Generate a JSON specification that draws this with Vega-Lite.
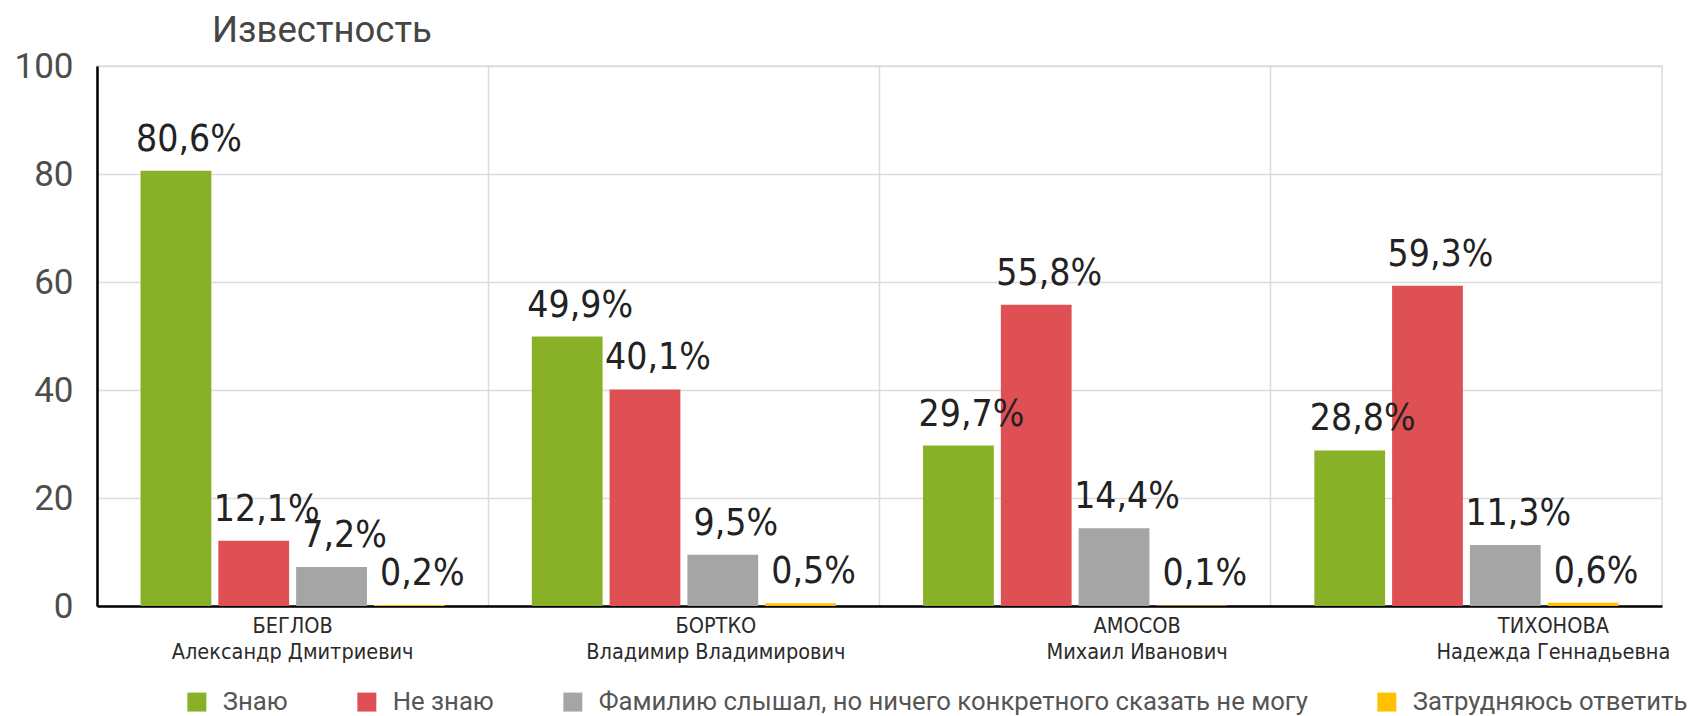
{
  "$schema": "https://vega.github.io/schema/vega-lite/v6.json",
  "width": 1565,
  "height": 540,
  "autosize": {"type": "none"},
  "padding": {"left": 97, "top": 66, "right": 30, "bottom": 110},
  "background": "#ffffff",
  "config": {
    "locale": {"number": {"decimal": ",", "thousands": " ", "grouping": [3], "currency": ["", "%"]}},
    "view": {"stroke": "#dcdcdc", "strokeWidth": 1.5}
  },
  "title": {"text": "Известность", "anchor": "start", "frame": "group", "dx": 115, "offset": 0, "font": "Roboto", "fontSize": 36.5, "fontWeight": "normal", "color": "#454545"},
  "data": {"values": [
    {"candidate": "БЕГЛОВ|Александр Дмитриевич", "answer": "Знаю", "value": 80.6},
    {"candidate": "БЕГЛОВ|Александр Дмитриевич", "answer": "Не знаю", "value": 12.1},
    {"candidate": "БЕГЛОВ|Александр Дмитриевич", "answer": "Фамилию слышал, но ничего конкретного сказать не могу", "value": 7.2},
    {"candidate": "БЕГЛОВ|Александр Дмитриевич", "answer": "Затрудняюсь ответить", "value": 0.2},
    {"candidate": "БОРТКО|Владимир Владимирович", "answer": "Знаю", "value": 49.9},
    {"candidate": "БОРТКО|Владимир Владимирович", "answer": "Не знаю", "value": 40.1},
    {"candidate": "БОРТКО|Владимир Владимирович", "answer": "Фамилию слышал, но ничего конкретного сказать не могу", "value": 9.5},
    {"candidate": "БОРТКО|Владимир Владимирович", "answer": "Затрудняюсь ответить", "value": 0.5},
    {"candidate": "АМОСОВ|Михаил Иванович", "answer": "Знаю", "value": 29.7},
    {"candidate": "АМОСОВ|Михаил Иванович", "answer": "Не знаю", "value": 55.8},
    {"candidate": "АМОСОВ|Михаил Иванович", "answer": "Фамилию слышал, но ничего конкретного сказать не могу", "value": 14.4},
    {"candidate": "АМОСОВ|Михаил Иванович", "answer": "Затрудняюсь ответить", "value": 0.1},
    {"candidate": "ТИХОНОВА|Надежда Геннадьевна", "answer": "Знаю", "value": 28.8},
    {"candidate": "ТИХОНОВА|Надежда Геннадьевна", "answer": "Не знаю", "value": 59.3},
    {"candidate": "ТИХОНОВА|Надежда Геннадьевна", "answer": "Фамилию слышал, но ничего конкретного сказать не могу", "value": 11.3},
    {"candidate": "ТИХОНОВА|Надежда Геннадьевна", "answer": "Затрудняюсь ответить", "value": 0.6}
  ]},
  "encoding": {
    "x": {
      "field": "candidate", "type": "nominal", "sort": null,
      "scale": {"paddingInner": 0, "paddingOuter": 0},
      "axis": {
        "title": null, "bandPosition": 0, "ticks": false, "grid": true,
        "gridColor": "#dcdcdc", "gridWidth": 1.5,
        "domainColor": "#000000", "domainWidth": 2.5,
        "labelExpr": "split(datum.label, '|')",
        "labelAngle": 0, "labelAlign": "center", "labelBaseline": "top",
        "labelPadding": 9,
        "labelOffset": {"condition": [
          {"test": "indexof(datum.value, 'БОРТКО') >= 0", "value": 32},
          {"test": "indexof(datum.value, 'АМОСОВ') >= 0", "value": 62},
          {"test": "indexof(datum.value, 'ТИХОНОВА') >= 0", "value": 87}
        ], "value": 0},
        "labelFont": "DejaVu Sans Condensed, Roboto, sans-serif", "labelFontSize": 21.5, "labelColor": "#2a2a2a",
        "labelLineHeight": 26, "labelLimit": 0, "labelOverlap": false
      }
    },
    "xOffset": {
      "field": "answer", "type": "nominal",
      "sort": ["Знаю", "Не знаю", "Фамилию слышал, но ничего конкретного сказать не могу", "Затрудняюсь ответить"],
      "scale": {"paddingInner": 0.09, "paddingOuter": 0.56}
    },
    "y": {
      "field": "value", "type": "quantitative",
      "scale": {"domain": [0, 100], "nice": false},
      "axis": {
        "title": null, "values": [0, 20, 40, 60, 80, 100], "ticks": false,
        "labelPadding": 24, "domainColor": "#000000", "domainWidth": 2.5,
        "gridColor": "#dcdcdc", "gridWidth": 1.5,
        "labelFont": "Roboto", "labelFontSize": 35, "labelColor": "#4d4d4d"
      }
    }
  },
  "layer": [
    {
      "mark": {"type": "bar"},
      "encoding": {
        "color": {
          "field": "answer", "type": "nominal",
          "scale": {
            "domain": ["Знаю", "Не знаю", "Фамилию слышал, но ничего конкретного сказать не могу", "Затрудняюсь ответить"],
            "range": ["#89b128", "#de5053", "#a5a5a5", "#ffc000"]
          },
          "legend": {
            "orient": "none", "legendX": 87, "legendY": 623, "direction": "horizontal",
            "title": null, "symbolType": "square", "symbolSize": 360, "symbolStrokeWidth": 0,
            "labelFont": "Roboto", "labelFontSize": 25.7, "labelColor": "#555555",
            "columnPadding": 66, "labelOffset": 13, "labelLimit": 0
          }
        }
      }
    },
    {
      "mark": {"type": "text", "baseline": "alphabetic", "align": "center", "dy": -20, "dx": 13, "font": "DejaVu Sans Condensed, Roboto, sans-serif", "fontSize": 37, "color": "#222222"},
      "encoding": {
        "text": {"field": "value", "type": "quantitative", "format": "$.1f"}
      }
    }
  ]
}
